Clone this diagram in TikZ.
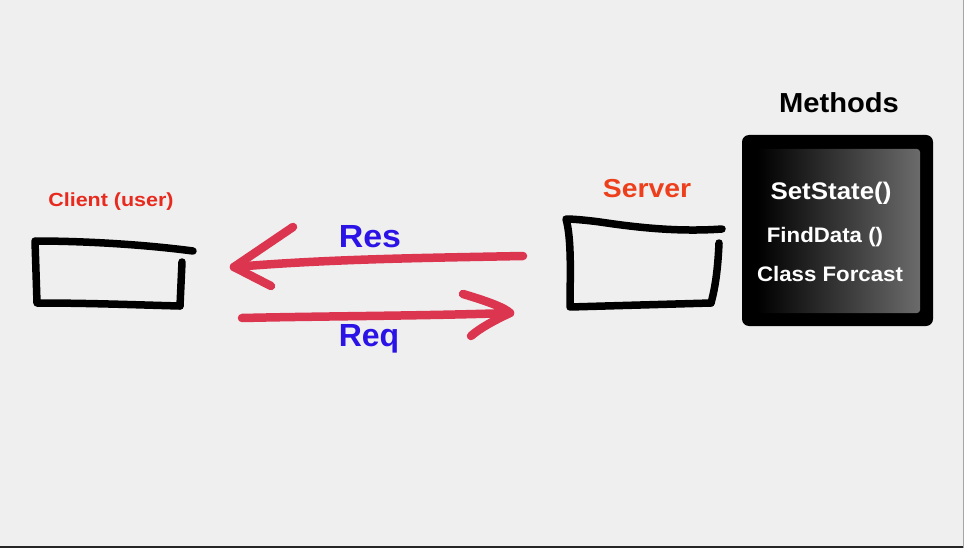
\documentclass[tikz,border=0pt]{standalone}
\usepackage{fontspec}
\setmainfont{Liberation Sans}
\definecolor{bg}{HTML}{EFEFEF}
\definecolor{arrowred}{HTML}{DC3550}
\definecolor{clientred}{HTML}{E82A1E}
\definecolor{serverred}{HTML}{EE3F1C}
\definecolor{resblue}{HTML}{2B12E6}
\begin{document}
\begin{tikzpicture}[x=1pt,y=-1pt,
  hand/.style={line width=7.5pt,line cap=round,line join=round,black},
  redarrow/.style={line width=8.5pt,line cap=round,line join=round,arrowred},
  lbl/.style={font=\bfseries,inner sep=0pt}]
\useasboundingbox (0,0) rectangle (964,548);
\fill[bg] (0,0) rectangle (964,548);
\draw[black!85,line width=2pt] (0,547) -- (964,547);
\draw[black!35,line width=1pt] (963.5,0) -- (963.5,548);

% client box
\draw[hand] (193,251) .. controls (140,244) and (80,241) .. (35,241) -- (37,303) .. controls (90,303) and (140,305) .. (180,306);
\draw[hand] (180,306) -- (182,262);
\node[lbl,text=clientred,font=\bfseries\fontsize{19}{21}\selectfont,xscale=1.13] (client) at (111,202) {Client (user)};

% server box
\draw[hand] (722,229) .. controls (680,232) and (640,228) .. (600,222) .. controls (585,220) and (572,219) .. (566,219)
  .. controls (572,240) and (570,280) .. (570,307) -- (711,303);
\draw[hand] (711,303) .. controls (716,285) and (718,265) .. (719,243);
\node[lbl,text=serverred,font=\bfseries\fontsize{26}{28}\selectfont,xscale=1.09] (server) at (647,189) {Server};

% methods box
\node[lbl,font=\bfseries\fontsize{27.5}{30}\selectfont,xscale=1.06] (methods) at (839,103) {Methods};
\fill[black,rounded corners=7pt] (742,135) rectangle (933,326);
\shade[left color=black,middle color=black,right color=black!58!white,rounded corners=3pt] (757,149) rectangle (920,313);
\node[lbl,text=white,font=\bfseries\fontsize{24}{26}\selectfont,xscale=1.08] (m1) at (831,193) {SetState()};
\node[lbl,text=white,font=\bfseries\fontsize{21}{24}\selectfont,xscale=1.06] (m2) at (825,237) {FindData ()};
\node[lbl,text=white,font=\bfseries\fontsize{21}{24}\selectfont,xscale=1.06] (m3) at (830,274) {Class Forcast};

% arrows
\coordinate (resstart) at (523,256);
\coordinate (restip) at (234,267);
\coordinate (reqstart) at (242,318);
\coordinate (reqtip) at (510,313);
\draw[redarrow] (resstart) .. controls (420,258) and (330,259) .. (restip);
\draw[redarrow] (293,227) -- (restip) -- (271,286);
\draw[redarrow] (reqstart) .. controls (330,316) and (420,316) .. (reqtip);
\draw[redarrow] (463,294) .. controls (490,302) and (505,308) .. (reqtip) .. controls (495,320) and (480,328) .. (471,336);
\node[lbl,text=resblue,font=\bfseries\fontsize{32}{34}\selectfont,xscale=1.06] (res) at (370,237) {Res};
\node[lbl,text=resblue,font=\bfseries\fontsize{32}{34}\selectfont,anchor=base] (req) at (369,346) {Req};
\end{tikzpicture}
\end{document}
